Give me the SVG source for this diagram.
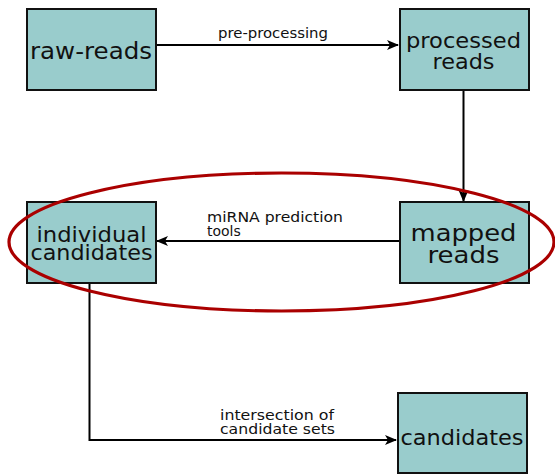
<svg xmlns="http://www.w3.org/2000/svg" width="555" height="475" viewBox="0 0 555 475">
  <style>
    .box { fill: #99cccc; stroke: #111; stroke-width: 2; }
    .node { font-family: "DejaVu Sans", sans-serif; fill: #111; text-anchor: middle; }
    .lbl { font-family: "DejaVu Sans", sans-serif; font-size: 14px; fill: #111; }
    .edge { fill: none; stroke: #000; stroke-width: 2; }
    .mark { fill: none; stroke: #aa0000; stroke-width: 3.2; }
  </style>
  <defs>
    <marker id="arrow" markerWidth="12" markerHeight="10" refX="11" refY="5" orient="auto" markerUnits="userSpaceOnUse">
      <path d="M0,0 L12,5 L0,10 L3,5 Z" fill="#000"/>
    </marker>
  </defs>

  <g id="connectors">
    <path class="edge" d="M156,45 H398" marker-end="url(#arrow)"/>
    <text class="lbl" x="273" y="37.5" text-anchor="middle" textLength="110" lengthAdjust="spacingAndGlyphs">pre-processing</text>
    <path class="edge" d="M463.5,90 V201" marker-end="url(#arrow)"/>
    <path class="edge" d="M399,241 H157" marker-end="url(#arrow)"/>
    <text class="lbl" x="207" y="222" textLength="136" lengthAdjust="spacingAndGlyphs">miRNA prediction</text>
    <text class="lbl" x="207" y="236">tools</text>
    <path class="edge" d="M89.5,283 V440 H396" marker-end="url(#arrow)"/>
    <text class="lbl" x="220" y="420" textLength="114" lengthAdjust="spacingAndGlyphs">intersection of</text>
    <text class="lbl" x="220" y="434" textLength="115" lengthAdjust="spacingAndGlyphs">candidate sets</text>
  </g>

  <g id="raw-reads">
    <rect class="box" x="27" y="9" width="129" height="81"/>
    <text class="node" x="91" y="59" font-size="23" textLength="122" lengthAdjust="spacingAndGlyphs">raw-reads</text>
  </g>

  <g id="processed-reads">
    <rect class="box" x="400" y="9" width="129" height="81"/>
    <text class="node" x="463.5" y="48" font-size="21" textLength="115" lengthAdjust="spacingAndGlyphs">processed</text>
    <text class="node" x="463.5" y="68.5" font-size="21" textLength="62" lengthAdjust="spacingAndGlyphs">reads</text>
  </g>

  <g id="mapped-reads">
    <rect class="box" x="400" y="202" width="129" height="81"/>
    <text class="node" x="463.5" y="240.5" font-size="23" textLength="106" lengthAdjust="spacingAndGlyphs">mapped</text>
    <text class="node" x="463.5" y="262.5" font-size="23" textLength="72" lengthAdjust="spacingAndGlyphs">reads</text>
  </g>

  <g id="individual-candidates">
    <rect class="box" x="27" y="202" width="129" height="81"/>
    <text class="node" x="91.5" y="241.5" font-size="21" textLength="110" lengthAdjust="spacingAndGlyphs">individual</text>
    <text class="node" x="91.5" y="259.5" font-size="21" textLength="122" lengthAdjust="spacingAndGlyphs">candidates</text>
  </g>

  <g id="candidates">
    <rect class="box" x="398" y="393" width="129" height="80"/>
    <text class="node" x="462" y="444.5" font-size="22" textLength="123" lengthAdjust="spacingAndGlyphs">candidates</text>
  </g>

  <g id="highlight">
    <ellipse class="mark" cx="281.5" cy="242" rx="272.5" ry="69"/>
  </g>
</svg>
